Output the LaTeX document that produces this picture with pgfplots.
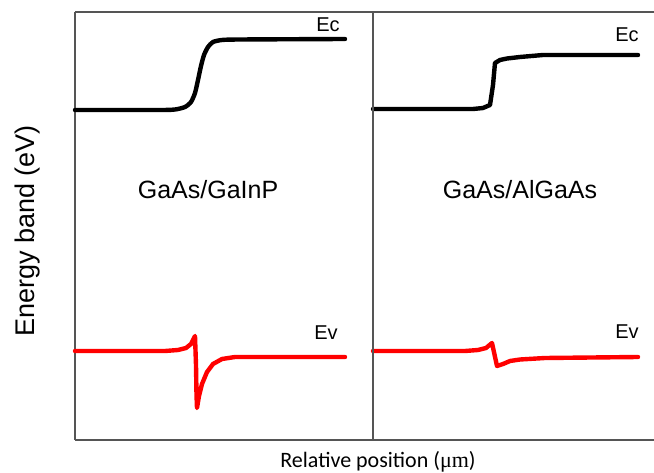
\documentclass[border=0pt]{standalone}
\usepackage{fontspec}
\setmainfont{Liberation Sans}
\newfontfamily\calibri{Carlito}
\newfontfamily\timesf{Liberation Serif}
\usepackage{pgfplots}
\pgfplotsset{compat=1.18}
\definecolor{framegray}{HTML}{555555}
\begin{document}
\begin{tikzpicture}
\path[use as bounding box] (0,0) rectangle (654pt,473pt);
\begin{axis}[
  at={(75pt,33pt)}, anchor=south west,
  scale only axis, width=579pt, height=428pt,
  xmin=75, xmax=654, ymin=12, ymax=440, y dir=reverse,
  separate axis lines,
  axis x line*=box, axis y line*=left,
  axis line style={framegray, line width=1.5pt, -},
  xtick=\empty, ytick=\empty,
  clip=false,
]
\addplot[black, line width=4.4pt, line cap=round, line join=round, smooth, tension=0.4] coordinates {
(75,110)(160,110)(175,109.5)(185,107)(191,102)(195,93)(198,80)(201,66)(204,55)(208,47)(213,42)(222,40)(240,39.5)(345,39)};
\addplot[black, line width=4.4pt, line cap=round, line join=round] coordinates {
(373,109)(473,109)(483,108)(490,105)(493,85)(495,63)(500,60)(507,58.5)(520,57)(543,55)(638,55)};
\addplot[red, line width=4.4pt, line cap=round, line join=round] coordinates {
(75,351)(165,351)(178,350)(186,348)(191,344)(195,336)(196,365)(196.5,395)(197,408)(199,396)(202,384)(207,372)(213,364)(222,359)(235,357)(345,357)};
\addplot[red, line width=4.4pt, line cap=round, line join=round] coordinates {
(373,351)(465,351)(478,350)(486,348)(492,343)(497,366)(503,364)(510,361)(520,359.5)(545,358)(638,357)};
\draw[framegray, line width=1.5pt] (axis cs:373,12) -- (axis cs:373,440);
\node[font=\fontsize{20}{22}\selectfont] at (axis cs:328,25) {Ec};
\node[font=\fontsize{20}{22}\selectfont] at (axis cs:627,35) {Ec};
\node[font=\fontsize{20}{22}\selectfont] at (axis cs:326,333) {Ev};
\node[font=\fontsize{20}{22}\selectfont] at (axis cs:627,332) {Ev};
\node[font=\fontsize{25}{28}\selectfont] at (axis cs:208,190) {GaAs/GaInP};
\node[font=\fontsize{25}{28}\selectfont] at (axis cs:520,190) {GaAs/AlGaAs};
\node[font=\fontsize{27}{30}\selectfont, rotate=90] at (axis cs:28,231) {Energy band (eV)};
\node[font=\fontsize{22}{25}\selectfont] at (axis cs:378,462) {\calibri Relative position (\timesf μm\calibri )};
\end{axis}
\end{tikzpicture}
\end{document}
